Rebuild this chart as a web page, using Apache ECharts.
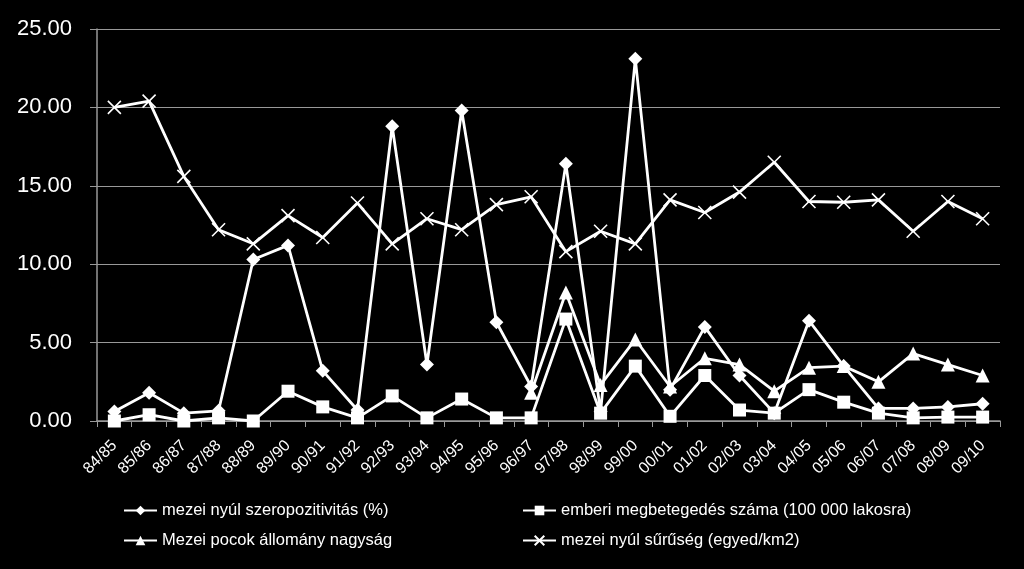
<!DOCTYPE html>
<html>
<head>
<meta charset="utf-8">
<title>mezei nyúl</title>
<script src="https://cdn.jsdelivr.net/npm/echarts@6/dist/echarts.min.js"></script>
<style>
  html, body { margin: 0; padding: 0; background: #000; }
  #main { width: 1024px; height: 569px; }
</style>
</head>
<body>
<div id="main"></div>
<script>
// évadok
var seasons = ['84/85','85/86','86/87','87/88','88/89','89/90','90/91','91/92','92/93','93/94',
  '94/95','95/96','96/97','97/98','98/99','99/00','00/01','01/02','02/03','03/04',
  '04/05','05/06','06/07','07/08','08/09','09/10'];

var seroPos = [0.6, 1.8, 0.5, 0.65, 10.3, 11.2, 3.2, 0.7, 18.8, 3.6,
  19.8, 6.3, 2.2, 16.4, 0.6, 23.1, 2.0, 6.0, 2.9, 0.5,
  6.4, 3.5, 0.8, 0.8, 0.9, 1.1];

var humanCases = [0.0, 0.4, 0.0, 0.2, 0.0, 1.9, 0.9, 0.2, 1.6, 0.2,
  1.4, 0.2, 0.2, 6.5, 0.5, 3.5, 0.3, 2.9, 0.7, 0.5,
  2.0, 1.2, 0.5, 0.2, 0.25, 0.25];

var volePop = [null, null, null, null, null, null, null, null, null, null,
  null, null, 1.8, 8.2, 2.3, 5.2, 2.2, 4.0, 3.6, 1.9,
  3.4, 3.5, 2.5, 4.3, 3.6, 2.9];

var hareDensity = [20.0, 20.4, 15.6, 12.2, 11.3, 13.1, 11.7, 13.9, 11.3, 12.9,
  12.2, 13.8, 14.3, 10.8, 12.1, 11.3, 14.1, 13.3, 14.6, 16.5,
  14.0, 13.95, 14.1, 12.1, 14.0, 12.9];

var names = ['mezei nyúl szeropozitivitás (%)', 'emberi megbetegedés száma (100 000 lakosra)',
  'Mezei pocok állomány nagyság', 'mezei nyúl sűrűség (egyed/km2)'];

var crossPath = 'path://M0,0 L10,10 M10,0 L0,10';
var font = 'Liberation Sans';

function mkSeries(name, data, symbol, size, extra) {
  var s = {
    name: name,
    type: 'line',
    data: data,
    symbol: symbol,
    symbolSize: size,
    showAllSymbol: true,
    connectNulls: false,
    lineStyle: { color: '#fff', width: 2.8 },
    itemStyle: { color: '#fff' },
    emphasis: { disabled: true },
    z: 3
  };
  if (extra) for (var k in extra) s[k] = extra[k];
  return s;
}

var myChart = echarts.init(document.getElementById('main'));
var option = {
  backgroundColor: '#000',
  animation: false,
  textStyle: { fontFamily: font },
  grid: { left: 97, right: 24, top: 29, bottom: 148 },
  legend: [{
    left: 118, top: 497, orient: 'vertical', itemGap: 13,
    itemWidth: 33, itemHeight: 12,
    textStyle: { color: '#fff', fontSize: 16.5, fontFamily: font },
    data: [names[0], names[2]]
  }, {
    left: 517, top: 497, orient: 'vertical', itemGap: 13,
    itemWidth: 33, itemHeight: 12,
    textStyle: { color: '#fff', fontSize: 16.5, fontFamily: font },
    data: [names[1], names[3]]
  }],
  xAxis: {
    type: 'category',
    data: seasons,
    boundaryGap: true,
    axisLine: { lineStyle: { color: '#999', width: 1.5 } },
    axisTick: { show: true, length: 6, lineStyle: { color: '#999' } },
    axisLabel: { color: '#fff', fontSize: 16, rotate: 45, interval: 0, margin: 22 },
    splitLine: { show: false }
  },
  yAxis: {
    type: 'value',
    min: 0, max: 25, interval: 5,
    axisLine: { show: true, lineStyle: { color: '#999', width: 1.5 } },
    axisTick: { show: true, length: 7, lineStyle: { color: '#999' } },
    axisLabel: { color: '#fff', fontSize: 22, margin: 25,
      formatter: function (v) { return v.toFixed(2); } },
    splitLine: { lineStyle: { color: '#999', width: 1.2 } }
  },
  series: [
    mkSeries(names[0], seroPos, 'diamond', 14),
    mkSeries(names[1], humanCases, 'rect', 13),
    mkSeries(names[2], volePop, 'triangle', 14),
    mkSeries(names[3], hareDensity, crossPath, 13,
      { itemStyle: { color: '#fff', borderColor: '#fff', borderWidth: 1.6 } })
  ]
};
myChart.setOption(option);
</script>
</body>
</html>
